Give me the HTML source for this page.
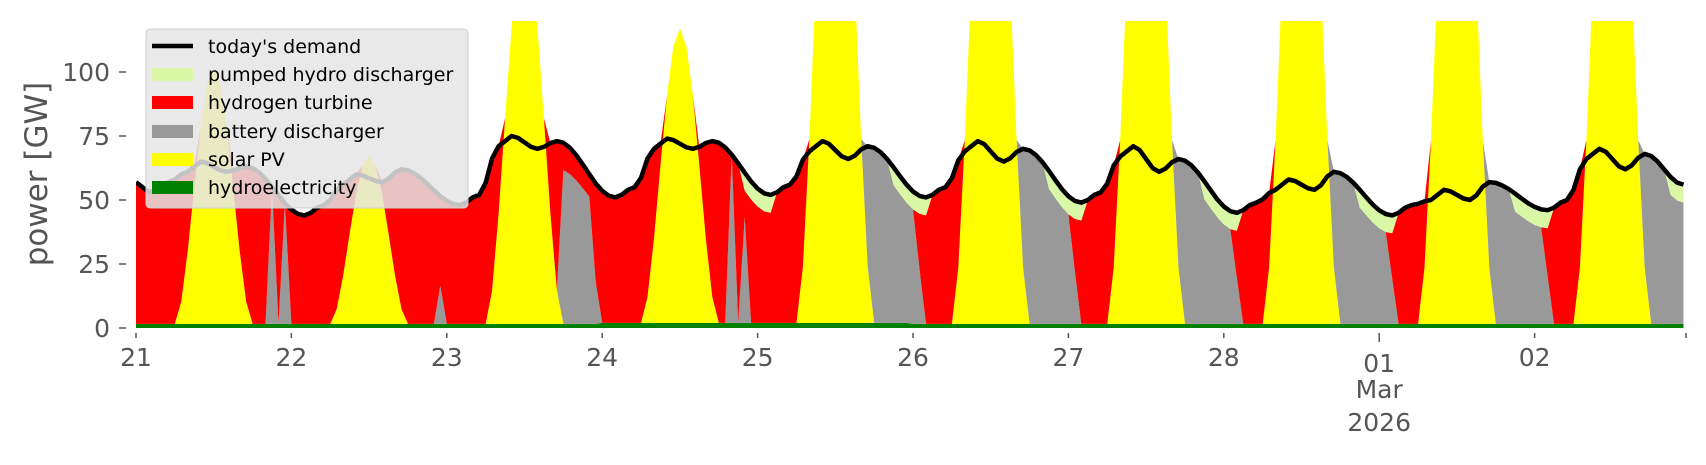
<!DOCTYPE html>
<html><head><meta charset="utf-8"><style>
html,body{margin:0;padding:0;background:#fff;}
svg text{font-family:"DejaVu Sans","Liberation Sans",sans-serif;}
</style></head><body>
<svg id="s" width="1706" height="460" xmlns="http://www.w3.org/2000/svg">
<defs><clipPath id="cp"><rect x="136" y="21" width="1550" height="307"/></clipPath></defs>
<g id="plot" clip-path="url(#cp)"></g>
<g id="axes" fill="#555" stroke="#555"></g>
<g>
<rect x="146" y="29" width="322" height="179" rx="4" fill="#e5e5e5" fill-opacity="0.85" stroke="#d0d0d0"/>
<line x1="152" y1="46" x2="193" y2="46" stroke="#000" stroke-width="4.5"/>
<rect x="152" y="68" width="41" height="13" fill="#daf7a6"/>
<rect x="152" y="96" width="41" height="13" fill="#ff0000"/>
<rect x="152" y="125" width="41" height="13" fill="#999"/>
<rect x="152" y="153" width="41" height="13" fill="#ffff00"/>
<rect x="152" y="181" width="41" height="13" fill="#008000"/>
<g font-size="19" fill="#000">
<text x="208" y="53">today's demand</text>
<text x="208" y="81">pumped hydro discharger</text>
<text x="208" y="109">hydrogen turbine</text>
<text x="208" y="138">battery discharger</text>
<text x="208" y="166">solar PV</text>
<text x="208" y="194">hydroelectricity</text>
</g></g>
<text transform="translate(47,174) rotate(-90)" text-anchor="middle" font-size="31" fill="#555">power [GW]</text>
</svg>
<script>
(function(){
var N=240,X0=136,DX=155.4/24,Y0=328,K=2.56;
function X(i){return X0+i*DX;} function Y(v){return Y0-v*K;}
var T=[53,44,48,51,52,51,49,45,44,46],P=[65,60,75,74,73,73,71,58,54,70],M=[61,57,70,70,66,65,61,54,50,62],E=[63,62,73,73,71,70,66,61,57,68];
var kp=[[0,57]];
for(var d=0;d<10;d++){var b=24*d;kp.push([b+2,T[d]],[b+5,T[d]+4],[b+8,P[d]-4],[b+10,P[d]],[b+14,M[d]],[b+17,E[d]]);}
kp.push([239,56]);
var D=[];
for(var i=0;i<N;i++){for(var k=0;k<kp.length-1;k++){if(i>=kp[k][0]&&i<=kp[k+1][0]){var t=(i-kp[k][0])/(kp[k+1][0]-kp[k][0]);t=(1-Math.cos(Math.PI*t))/2;D.push(kp[k][1]+(kp[k+1][1]-kp[k][1])*t);break;}}}
var A=[100,66,150,115,250,250,250,250,250,250];
var H=[],S=[],B=[],R=[],PH=[];
for(var i=0;i<N;i++){
 var d=Math.floor(i/24),hh=i%24;
 var hy=(d==3||d==4)?2.0:1.6;H.push(hy);
 var sv=Math.sin(Math.PI*(hh-6)/12);var s=sv>0?A[d]*Math.pow(sv,1.8):0;S.push(s);
 var rem=Math.max(0,D[i]-hy-s),b=0,p=0;
 if(d<=3){
  if(d==0&&(hh==21||hh==23))b=rem;
  if(d==1&&hh==23)b=Math.min(15,rem);
  if(d==2&&hh>=18&&hh<=22)b=0.85*rem;
  if(d==2&&hh==23)b=0.3*rem;
  if(d==3&&hh==20)b=rem;
  if(d==3&&hh>=22){p=Math.min(7,rem);if(hh==22)b=0.8*(rem-p);}
 }else{
  if(hh>=21||hh<=2)p=Math.min(7,rem);
  if(d==4&&hh<15){b=0;}
  else if(hh>=15||hh<=(d>=7?1:0))b=rem-p;
  else if(hh==(d>=7?2:1))b=0.5*(rem-p);
 }
 B.push(b);PH.push(p);R.push(Math.max(0,rem-b-p));
}
var layers=[[H,'#008000'],[S,'#ffff00'],[B,'#999999'],[R,'#ff0000'],[PH,'#daf7a6']];
var cum=new Array(N).fill(0),html='';
layers.forEach(function(L){
 var lo=cum.slice();for(var i=0;i<N;i++)cum[i]+=L[0][i];
 var pts=[];for(var i=0;i<N;i++)pts.push(X(i).toFixed(1)+','+Y(cum[i]).toFixed(1));
 for(var i=N-1;i>=0;i--)pts.push(X(i).toFixed(1)+','+Y(lo[i]).toFixed(1));
 html+='<polygon points="'+pts.join(' ')+'" fill="'+L[1]+'"/>';
});
var dp=[];for(var i=0;i<N;i++)dp.push(X(i).toFixed(1)+','+Y(D[i]).toFixed(1));
html+='<polyline points="'+dp.join(' ')+'" fill="none" stroke="#000" stroke-width="4.5" stroke-linejoin="round"/>';
document.getElementById('plot').innerHTML=html;
var ax='';
[0,25,50,75,100].forEach(function(v){var y=Y(v);ax+='<line x1="119" y1="'+y+'" x2="126" y2="'+y+'" stroke-width="1.5"/><text x="110" y="'+(y+9)+'" text-anchor="end" font-size="25" stroke="none">'+v+'</text>';});
var lab=['21','22','23','24','25','26','27','28','01','02'];
for(var k=0;k<10;k++){var x=X0+k*155.4;ax+='<line x1="'+x+'" y1="333" x2="'+x+'" y2="'+(k==8?342:338)+'" stroke-width="1.5"/><text x="'+x+'" y="'+(k==8?372:366)+'" text-anchor="middle" font-size="25" stroke="none">'+lab[k]+'</text>';}
ax+='<line x1="1686" y1="333" x2="1686" y2="338" stroke-width="1.5"/>';
var mx=X0+8*155.4;
ax+='<text x="'+mx+'" y="398" text-anchor="middle" font-size="25" stroke="none">Mar</text><text x="'+mx+'" y="431" text-anchor="middle" font-size="25" stroke="none">2026</text>';
document.getElementById('axes').innerHTML=ax;
})();
</script>
</body></html>
